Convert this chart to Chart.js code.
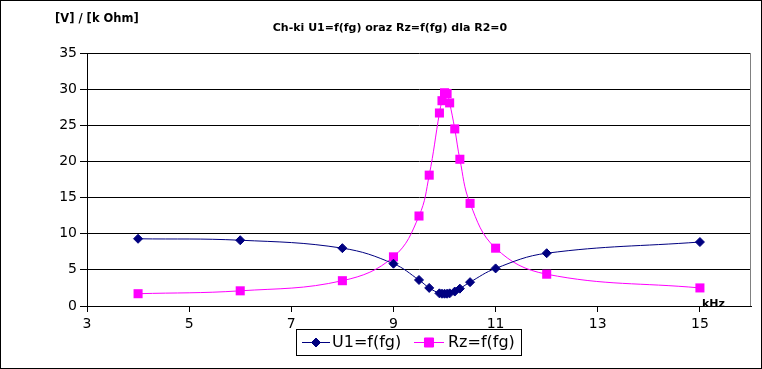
<!DOCTYPE html>
<html>
<head>
    <title>Ch-ki U1=f(fg) oraz Rz=f(fg)</title>
    <script src="https://cdn.jsdelivr.net/npm/chart.js"></script>
    <style>
        body { margin: 0; background: #fff; }
    </style>
</head>
<body>
<canvas id="chart" width="762" height="369"></canvas>
<script>
    // czestotliwosc generatora [kHz]
    var fg = [4, 6, 8, 9, 9.5, 9.7, 9.9, 9.95, 10, 10.05, 10.1, 10.2, 10.3, 10.5, 11, 12, 15];
    // napiecie U1 [V]
    var u1 = [9.3, 9.1, 8.0, 5.85, 3.6, 2.5, 1.75, 1.7, 1.7, 1.7, 1.75, 2.0, 2.4, 3.3, 5.2, 7.3, 8.85];
    // impedancja Rz [k Ohm]
    var rz = [1.7, 2.1, 3.5, 6.8, 12.45, 18.1, 26.7, 28.4, 29.5, 29.4, 28.1, 24.5, 20.3, 14.2, 8.0, 4.4, 2.5];
    var xTicks = [3, 5, 7, 9, 11, 13, 15];
    var yTicks = [0, 5, 10, 15, 20, 25, 30, 35];

    var seriesNames = ['U1=f(fg)', 'Rz=f(fg)'];
    var seriesColors = ['#000080', '#ff00ff'];
    var font = 'DejaVu Sans';

    function toPoints(ys) {
        return fg.map((x, i) => ({ x: x, y: ys[i] }));
    }

    // napisy, legenda i ramki
    var extras = {
        id: 'extras',
        beforeDraw(chart) {
            let ctx = chart.ctx;
            ctx.save();
            ctx.fillStyle = '#fff';
            ctx.fillRect(0, 0, chart.width, chart.height);
            ctx.restore();
        },
        beforeDatasetsDraw(chart) {
            let ctx = chart.ctx, a = chart.chartArea;
            ctx.save();
            ctx.strokeStyle = '#808080';
            ctx.lineWidth = 1;
            ctx.beginPath();
            ctx.moveTo(Math.round(a.right) - 0.5, a.top);
            ctx.lineTo(Math.round(a.right) - 0.5, a.bottom);
            ctx.stroke();
            ctx.restore();
        },
        afterDraw(chart) {
            let ctx = chart.ctx;
            ctx.save();
            // ramka calego wykresu
            ctx.strokeStyle = '#000';
            ctx.lineWidth = 1;
            ctx.strokeRect(0.5, 0.5, chart.width - 1, chart.height - 1);

            ctx.fillStyle = '#000';
            ctx.textBaseline = 'alphabetic';
            ctx.font = 'bold 11px "' + font + '"';
            ctx.textAlign = 'center';
            ctx.fillText('Ch-ki U1=f(fg) oraz Rz=f(fg) dla R2=0', 390, 31);
            ctx.font = 'bold 11.5px "' + font + '"';
            ctx.textAlign = 'left';
            ctx.fillText('[V] / [k Ohm]', 55, 22);
            ctx.font = 'bold 11px "' + font + '"';
            ctx.fillText('kHz', 702, 307);

            // legenda
            ctx.strokeRect(296.5, 329.5, 225, 26);
            ctx.font = '16px "' + font + '"';
            ctx.textBaseline = 'middle';
            let items = [
                { x1: 302, x2: 330, text: 332, style: 'rectRot', r: 4.5 },
                { x1: 414, x2: 444, text: 448, style: 'rect', r: 6.4 }
            ];
            items.forEach((it, i) => {
                let y = 342.5;
                ctx.strokeStyle = seriesColors[i];
                ctx.fillStyle = seriesColors[i];
                ctx.beginPath();
                ctx.moveTo(it.x1, y);
                ctx.lineTo(it.x2, y);
                ctx.stroke();
                Chart.helpers.drawPoint(ctx, { pointStyle: it.style, radius: it.r, borderWidth: 1, rotation: 0 },
                    (it.x1 + it.x2) / 2, y);
                ctx.fillStyle = '#000';
                ctx.fillText(seriesNames[i], it.text, y);
            });
            ctx.restore();
        }
    };

    let ctx = document.getElementById('chart').getContext('2d');
    let chart = new Chart(ctx, {
        type: 'line',
        data: {
            datasets: [{
                label: seriesNames[0],
                data: toPoints(u1),
                borderColor: seriesColors[0],
                backgroundColor: seriesColors[0],
                borderWidth: 1,
                pointStyle: 'rectRot',
                pointRadius: 4.5,
                pointBorderWidth: 1,
                tension: 0.4
            }, {
                label: seriesNames[1],
                data: toPoints(rz),
                borderColor: seriesColors[1],
                backgroundColor: seriesColors[1],
                borderWidth: 1,
                pointStyle: 'rect',
                pointRadius: 6.4,
                pointBorderWidth: 0,
                tension: 0.4
            }]
        },
        options: {
            responsive: false,
            animation: false,
            layout: { padding: { left: 0, right: 11, top: 53, bottom: 33 } },
            plugins: {
                legend: { display: false },
                title: { display: false },
                tooltip: { enabled: false }
            },
            scales: {
                x: {
                    type: 'linear',
                    min: 3,
                    max: 16,
                    afterBuildTicks: s => { s.ticks = xTicks.map(v => ({ value: v })); },
                    afterFit: s => { s.height = 30; },
                    grid: { drawOnChartArea: false, drawTicks: true, tickLength: 6, color: '#000' },
                    border: { color: '#000' },
                    ticks: { color: '#000', font: { family: font, size: 14 }, padding: 4, maxRotation: 0 }
                },
                y: {
                    min: 0,
                    max: 35,
                    afterBuildTicks: s => { s.ticks = yTicks.map(v => ({ value: v })); },
                    afterFit: s => { s.width = 87; },
                    grid: { color: '#000', tickLength: 7 },
                    border: { color: '#000' },
                    ticks: { color: '#000', font: { family: font, size: 14 }, padding: 3 }
                }
            }
        },
        plugins: [extras]
    });
</script>
</body>
</html>
